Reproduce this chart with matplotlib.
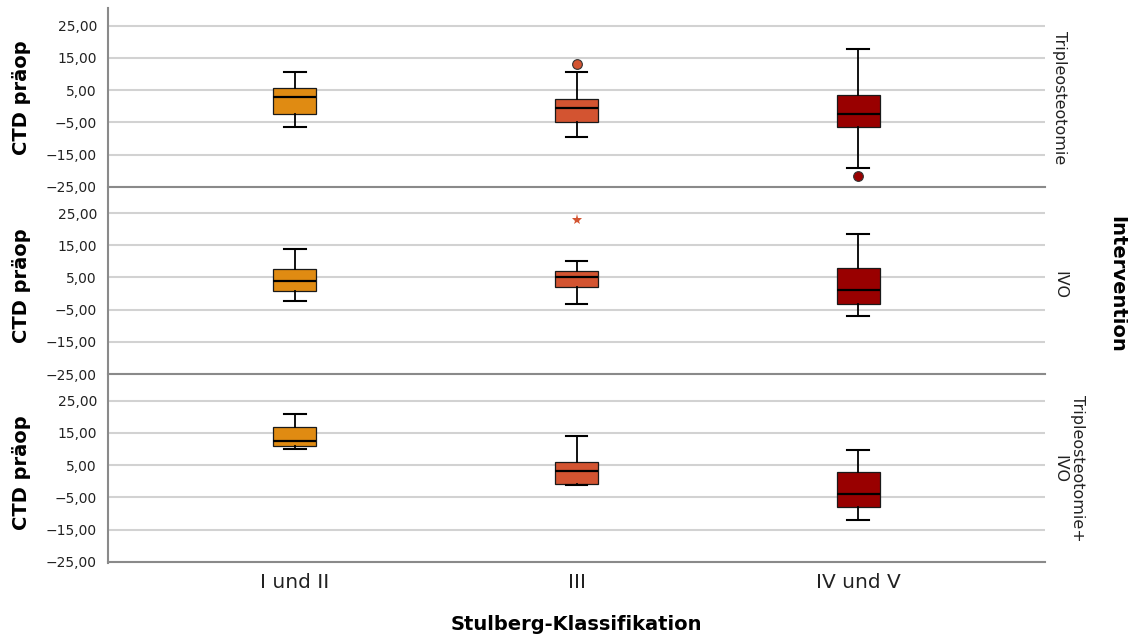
import matplotlib
matplotlib.use("Agg")
import matplotlib.pyplot as plt
from matplotlib.lines import Line2D

# Categories and panels
categories = ["I und II", "III", "IV und V"]
panel_labels = ["Tripleosteotomie", "IVO", "Tripleosteotomie+\nIVO"]
box_colors = ["#E08B12", "#D35431", "#990000"]

# Box stats per category: [whislo, q1, med, q3, whishi]
tripleo_stats = [[-6.5, -2.5, 2.8, 5.6, 10.5],
                 [-9.5, -4.8, -0.7, 2.1, 10.7],
                 [-19.3, -6.4, -2.5, 3.5, 17.7]]
ivo_stats = [[-2.3, 0.9, 4.0, 7.5, 13.9],
             [-3.3, 1.9, 5.2, 7.0, 10.0],
             [-7.1, -3.2, 1.1, 7.9, 18.4]]
combo_stats = [[9.9, 10.8, 12.4, 16.9, 21.0],
               [-1.1, -0.8, 3.2, 6.0, 14.0],
               [-12.1, -8.1, -3.9, 3.0, 9.7]]

# Outliers (circles) and extreme values (stars) per category
tripleo_outliers = [[], [13.0], [-21.7]]
ivo_outliers = [[], [], []]
combo_outliers = [[], [], []]
tripleo_extremes = [[], [], []]
ivo_extremes = [[], [22.8], []]
combo_extremes = [[], [], []]

yticks = [-25, -15, -5, 5, 15, 25]
ylim = (-25, 30.5)

all_stats = [tripleo_stats, ivo_stats, combo_stats]
all_outliers = [tripleo_outliers, ivo_outliers, combo_outliers]
all_extremes = [tripleo_extremes, ivo_extremes, combo_extremes]

fig = plt.figure(figsize=(11.28, 6.39), dpi=100)

left, width = 108 / 1128, 937 / 1128
tops = [8, 195.3, 383]
height = 178.7 / 639

axes = []
for p in range(3):
    bottom = 1 - (tops[p] / 639) - height
    ax = fig.add_axes([left, bottom, width, height])
    axes.append(ax)

    for i, cat in enumerate(categories):
        lo, q1, med, q3, hi = all_stats[p][i]
        stats = [{"whislo": lo, "q1": q1, "med": med, "q3": q3, "whishi": hi,
                  "fliers": all_outliers[p][i]}]
        ax.bxp(stats, positions=[i], widths=0.153, capwidths=0.078,
               patch_artist=True, showfliers=True,
               boxprops=dict(facecolor=box_colors[i], edgecolor="#1a1a1a", linewidth=0.9),
               medianprops=dict(color="black", linewidth=1.6),
               whiskerprops=dict(color="black", linewidth=1.3),
               capprops=dict(color="black", linewidth=1.5),
               flierprops=dict(marker="o", markersize=7, markerfacecolor=box_colors[i],
                               markeredgecolor="#333333", markeredgewidth=0.8))
        for v in all_extremes[p][i]:
            ax.plot(i, v, marker="*", markersize=8, color=box_colors[i],
                    markeredgewidth=0, linestyle="none")

    ax.set_xlim(-0.664, 2.664)
    ax.set_ylim(*ylim)
    ax.set_yticks(yticks)
    ax.set_yticklabels([f"{v:.2f}".replace(".", ",").replace("-", "\u2212") for v in yticks],
                       fontsize=10, color="#222222")
    ax.tick_params(axis="y", length=0, pad=8)
    ax.grid(axis="y", color="#d2d2d2", linewidth=1.5)
    ax.set_axisbelow(True)
    for s in ["top", "right", "left"]:
        ax.spines[s].set_visible(False)
    ax.spines["bottom"].set_color("#8a8a8a")
    ax.spines["bottom"].set_linewidth(1.5)

    if p < 2:
        ax.set_xticks([])
    else:
        ax.set_xticks(range(len(categories)))
        ax.set_xticklabels(categories, fontsize=14.5, color="#222222")
        ax.tick_params(axis="x", length=0, pad=8)

    ax.text(1.008, 0.5 if p < 2 else 0.52, panel_labels[p], transform=ax.transAxes,
            rotation=-90, ha="left", va="center", multialignment="center",
            fontsize=11.5, color="#222222")

    fig.text(22 / 1128, 1 - (tops[p] + 90) / 639, "CTD präop", rotation=90,
             ha="center", va="center", fontsize=14, fontweight="bold")

# continuous left axis line
fig.add_artist(Line2D([left, left], [1 - 8 / 639, 1 - 563 / 639],
                      transform=fig.transFigure, color="#8a8a8a", linewidth=1.5))

fig.text(1117 / 1128, 1 - 284 / 639, "Intervention", rotation=-90,
         ha="center", va="center", fontsize=14, fontweight="bold")
fig.text(576 / 1128, 1 - 625 / 639, "Stulberg-Klassifikation",
         ha="center", va="center", fontsize=14, fontweight="bold")

fig.savefig("out.png", dpi=100)
